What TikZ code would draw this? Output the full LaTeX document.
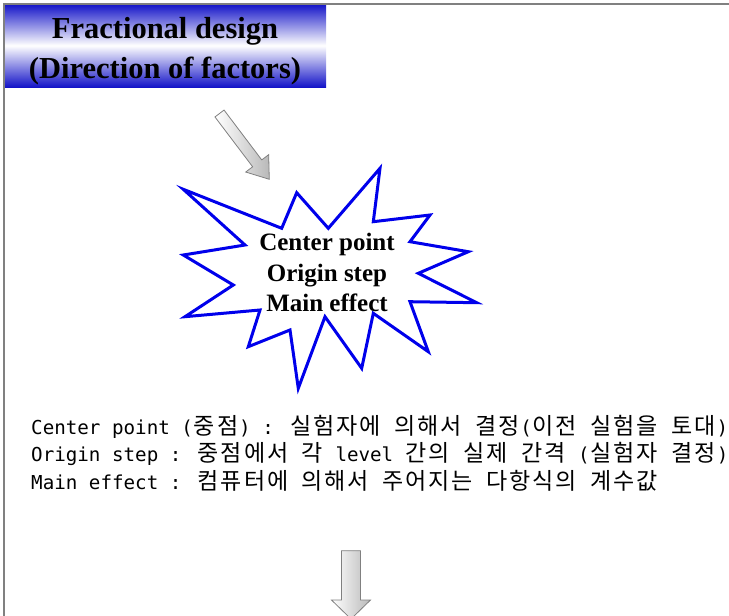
\documentclass[tikz,border=0pt]{standalone}
\usepackage{fontspec}
\setmainfont{Liberation Serif}
\newfontfamily\monofont{DejaVu Sans Mono}
\newfontfamily\krfont[Scale=1.2]{Noto Sans CJK KR}
\usepackage{tikz}
\usetikzlibrary{positioning}
\definecolor{hdblue}{RGB}{20,20,200}
\definecolor{burstblue}{RGB}{0,0,235}
\definecolor{framegray}{RGB}{128,128,128}
\tikzset{
  hd/.style={minimum width=322pt,minimum height=83pt,inner sep=0pt,top color=hdblue,bottom color=hdblue,middle color=white},
  hdtxt/.style={align=center,inner sep=0pt,font=\fontsize{30.5}{40}\selectfont\bfseries},
  brst/.style={draw=burstblue,line width=3pt,line join=miter,fill=white},
  brtxt/.style={align=center,inner sep=0pt,font=\fontsize{25}{30.5}\selectfont\bfseries},
  blk/.style={draw=gray,line width=0.8pt,left color=white,right color=gray!55},
  note/.style={align=left,inner sep=0pt,font=\monofont\fontsize{19.2}{27.5}\selectfont},
  frm/.style={draw=framegray,line width=2pt}
}
% one fixed cell per hangul letter
\def\kochars#1{\ifx#1\relax\else\makebox[23.1pt]{#1}\expandafter\kochars\fi}
\newcommand{\ko}[1]{{\krfont\kochars#1\relax}}

\begin{document}
\begin{tikzpicture}[x=1pt,y=-1pt]
\useasboundingbox (0,0) rectangle (729,616);
\node[hd] (title) at (165,45.5) {};
\node[hdtxt] (titletxt) at (165,51) {Fractional design\\(Direction of factors)};
\draw[frm] (4,616) -- (4,4) -- (729,4);
\coordinate (inarrow) at (219.5,113.5);
\begin{scope}[shift={(inarrow)},rotate=-52.9]
\draw[blk] (0,-5.7) -- (62.5,-5.7) -- (62.5,-14.4) -- (82.5,0) -- (62.5,14.4) -- (62.5,5.7) -- (0,5.7) -- cycle;
\end{scope}
\draw[brst] (183.3,189.3) -- (281.7,228.3) -- (296.7,192.7) -- (328.3,228.3) -- (380,168.3) -- (373.3,221.7)
  -- (430,215) -- (410,241.7) -- (468.3,251.7) -- (418.3,273.3) -- (476.7,302.7) -- (410,301.7)
  -- (428.3,351.7) -- (373.3,313.3) -- (361.7,368.3) -- (325,316.7) -- (298.3,388.3) -- (290,330)
  -- (248.3,346.7) -- (260,310) -- (185,316.7) -- (233.3,285) -- (183.3,255) -- (245,245) -- cycle;
\node[brtxt] (burst) at (327,272.5) {Center point\\Origin step\\Main effect};
\node[note,anchor=north west] (notes) at (31,415) {Center point (\ko{중점}) : \ko{실험자에} \ko{의해서} \ko{결정}(\ko{이전} \ko{실험을} \ko{토대})\\
Origin step : \ko{중점에서} \ko{각} level \ko{간의} \ko{실제} \ko{간격} (\ko{실험자} \ko{결정})\\
Main effect : \ko{컴퓨터에} \ko{의해서} \ko{주어지는} \ko{다항식의} \ko{계수값}};
\coordinate (outarrow) at (351,550.7);
\draw[blk] ([xshift=-9.5pt]outarrow) -- ([xshift=9.5pt]outarrow) -- ++(0,49.3) -- ++(10,0) -- ++(-19.5,19)
  -- ++(-19.5,-19) -- ++(10,0) -- cycle;
\end{tikzpicture}
\end{document}
